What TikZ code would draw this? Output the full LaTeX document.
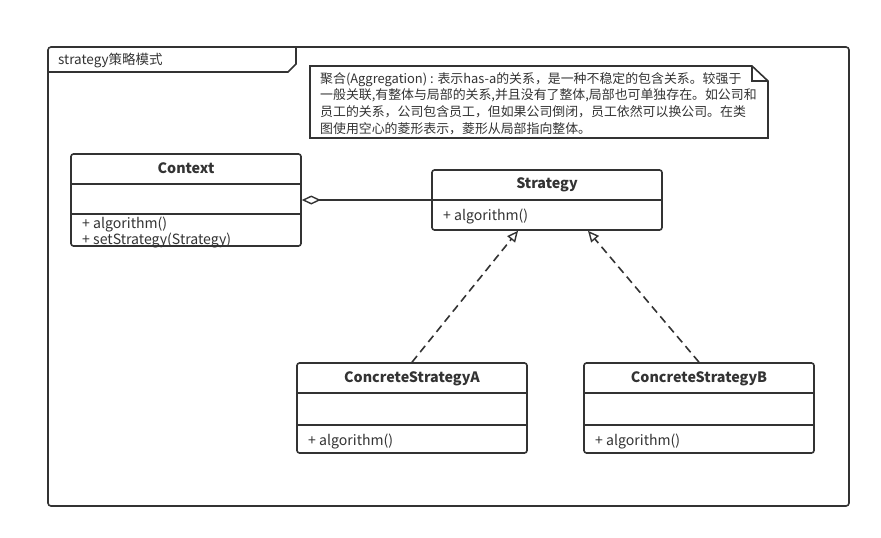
\documentclass[tikz,border=0pt]{standalone}
\usepackage{fontspec}
\setmainfont{Noto Sans CJK SC}
\usetikzlibrary{arrows.meta,calc}
\definecolor{ink}{HTML}{333333}
\tikzset{
  cls/.style={draw=ink, line width=1.6pt, rounded corners=2.5pt, rectangle, minimum width=230pt, inner sep=0pt, fill=white},
  divider/.style={draw=ink, line width=1.6pt},
  ttl/.style={font=\fontsize{14.3}{16}\selectfont\bfseries, text=ink, inner sep=0pt},
  mth/.style={font=\fontsize{14.1}{16}\selectfont, text=ink, inner sep=0pt, anchor=west},
  realize/.style={draw=ink, line width=1.6pt, dash pattern=on 8pt off 5pt, -{Triangle[open,length=11pt,width=10pt,line width=1.4pt]}},
  agg/.style={draw=ink, line width=1.6pt, -{Diamond[open,length=19pt,width=9pt,line width=1.4pt]}},
}
\begin{document}
\begin{tikzpicture}[x=1pt,y=-1pt]
\useasboundingbox (0,0) rectangle (881,538);
% outer frame
\draw[ink, line width=1.6pt, rounded corners=3pt] (48,47) rectangle (849,506);
\draw[ink, line width=1.6pt] (48,72) -- (288,72) -- (296,64) -- (296,47);
\node[anchor=west, font=\fontsize{13.5}{15}\selectfont, text=ink, inner sep=0pt] (frametitle) at (58,60) {strategy策略模式};
% note
\draw[ink, line width=1.6pt, fill=white] (310,66) -- (752,66) -- (768,81) -- (768,138) -- (310,138) -- cycle;
\draw[ink, line width=1.6pt] (752,66) -- (752,81) -- (768,81);
\node[anchor=north west, align=left, font=\fontsize{12.9}{16.7}\selectfont, text=ink, inner sep=0pt] (note) at (320,72) {聚合(Aggregation) : 表示has-a的关系，是一种不稳定的包含关系。较强于\\一般关联,有整体与局部的关系,并且没有了整体,局部也可单独存在。如公司和\\员工的关系，公司包含员工，但如果公司倒闭，员工依然可以换公司。在类\\图使用空心的菱形表示，菱形从局部指向整体。};
% Context
\node[cls, minimum height=92pt] (ctx) at (186,200) {};
\draw[divider] (71,184) -- (301,184);
\draw[divider] (71,214) -- (301,214);
\node[ttl] (ctxt) at (186,168) {Context};
\node[mth] (ctxm1) at (82,224) {+ algorithm()};
\node[mth] (ctxm2) at (82,240) {+ setStrategy(Strategy)};
% Strategy
\node[cls, minimum height=60pt] (strat) at (547,200) {};
\draw[divider] (432,200) -- (662,200);
\node[ttl] (stratt) at (547,185) {Strategy};
\node[mth] (stratm) at (443,216) {+ algorithm()};
% ConcreteStrategyA
\node[cls, minimum height=90pt] (ca) at (412,408) {};
\draw[divider] (297,393) -- (527,393);
\draw[divider] (297,425) -- (527,425);
\node[ttl] (cat) at (412,379) {ConcreteStrategyA};
\node[mth] (cam) at (308,441) {+ algorithm()};
% ConcreteStrategyB
\node[cls, minimum height=90pt] (cb) at (699,408) {};
\draw[divider] (584,393) -- (814,393);
\draw[divider] (584,425) -- (814,425);
\node[ttl] (cbt) at (699,379) {ConcreteStrategyB};
\node[mth] (cbm) at (595,441) {+ algorithm()};
% connectors
\draw[agg] (strat.west) -- (ctx.east);
\draw[realize] (ca.north) -- ($(strat.south)+(-29,0)$);
\draw[realize] (cb.north) -- ($(strat.south)+(41,0)$);
\end{tikzpicture}
\end{document}
